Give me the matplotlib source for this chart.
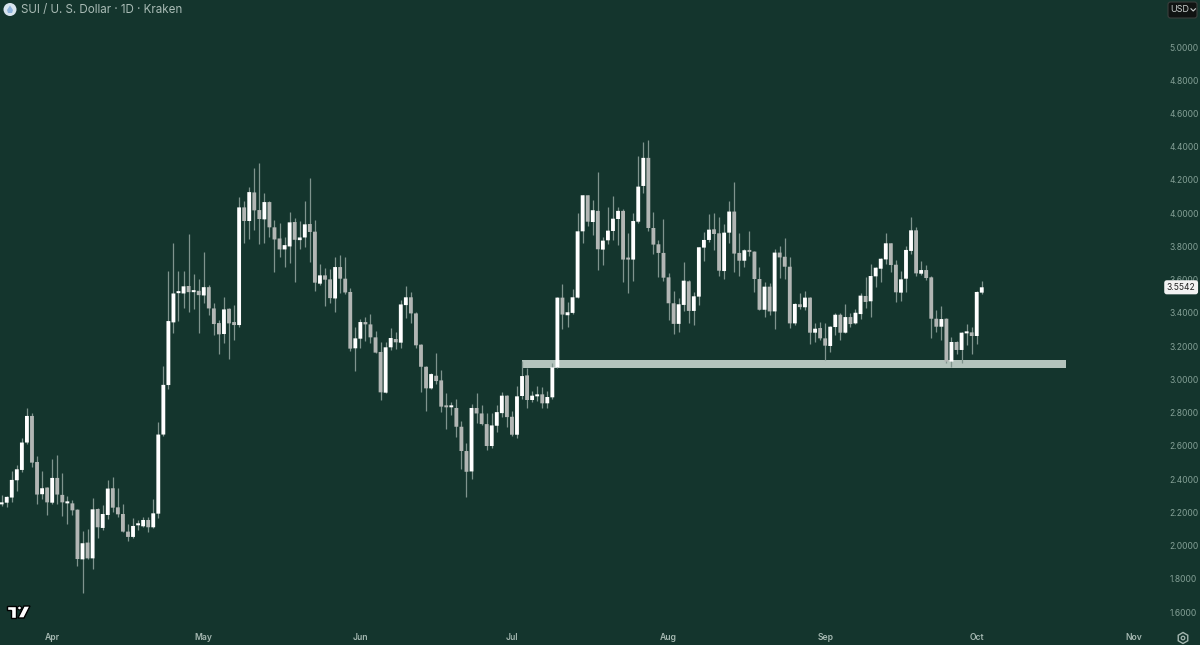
import pandas as pd
import matplotlib
matplotlib.use('Agg')
import matplotlib.pyplot as plt
import matplotlib.dates as mdates
from matplotlib.patches import Circle, FancyBboxPatch, Polygon, RegularPolygon

# Dados (SUI/USD diario, Kraken)
opens = [2.248, 2.258, 2.289, 2.393, 2.455, 2.620, 2.780, 2.503, 2.309, 2.349,
         2.258, 2.407, 2.305, 2.254, 2.254, 2.216, 1.917, 2.018, 1.923, 2.220,
         2.106, 2.184, 2.345, 2.230, 2.190, 2.084, 2.052, 2.122, 2.116, 2.154,
         2.110, 2.192, 2.668, 2.966, 3.343, 3.519, 3.517, 3.562, 3.525, 3.533,
         3.505, 3.555, 3.427, 3.339, 3.273, 3.425, 3.345, 3.327, 4.035, 3.953,
         4.125, 4.019, 3.963, 4.067, 3.915, 3.848, 3.782, 3.800, 3.947, 3.838,
         3.854, 3.935, 3.889, 3.576, 3.626, 3.602, 3.487, 3.676, 3.606, 3.526,
         3.187, 3.245, 3.345, 3.331, 3.253, 3.165, 2.920, 3.193, 3.243, 3.221,
         3.447, 3.494, 3.397, 3.209, 3.076, 2.946, 3.022, 2.994, 2.840, 2.832,
         2.828, 2.715, 2.569, 2.446, 2.828, 2.795, 2.731, 2.599, 2.721, 2.797,
         2.902, 2.775, 2.667, 2.900, 3.024, 2.876, 2.898, 2.910, 2.856, 2.892,
         3.072, 3.492, 3.386, 3.400, 3.492, 3.891, 4.108, 3.947, 4.014, 3.781,
         3.837, 3.893, 3.965, 4.014, 3.725, 3.721, 3.949, 4.164, 4.333, 3.911,
         3.813, 3.761, 3.614, 3.458, 3.334, 3.448, 3.590, 3.412, 3.498, 3.793,
         3.839, 3.903, 3.879, 3.652, 3.883, 4.010, 3.761, 3.714, 3.779, 3.769,
         3.604, 3.419, 3.558, 3.409, 3.763, 3.738, 3.678, 3.337, 3.452, 3.434,
         3.492, 3.281, 3.309, 3.247, 3.201, 3.315, 3.389, 3.281, 3.375, 3.337,
         3.393, 3.502, 3.470, 3.620, 3.666, 3.722, 3.819, 3.690, 3.522, 3.606,
         3.773, 3.897, 3.636, 3.658, 3.614, 3.365, 3.317, 3.365, 3.107, 3.225,
         3.177, 3.277, 3.283, 3.261, 3.522]
highs = [2.305, 2.299, 2.449, 2.483, 2.650, 2.826, 2.796, 2.541, 2.449, 2.352,
         2.523, 2.547, 2.435, 2.299, 2.272, 2.220, 2.086, 2.098, 2.285, 2.224,
         2.246, 2.393, 2.415, 2.345, 2.248, 2.130, 2.166, 2.154, 2.174, 2.170,
         2.280, 2.746, 3.081, 3.652, 3.818, 3.652, 3.652, 3.874, 3.632, 3.602,
         3.764, 3.570, 3.461, 3.357, 3.495, 3.429, 3.445, 4.099, 4.075, 4.155,
         4.274, 4.300, 4.119, 4.075, 3.959, 3.943, 3.858, 4.007, 3.969, 3.953,
         4.073, 4.214, 3.957, 3.692, 3.668, 3.662, 3.734, 3.748, 3.734, 3.548,
         3.313, 3.361, 3.373, 3.395, 3.291, 3.227, 3.223, 3.309, 3.283, 3.477,
         3.562, 3.524, 3.403, 3.213, 3.080, 3.040, 3.156, 3.056, 2.916, 2.866,
         2.880, 2.751, 2.615, 2.850, 2.916, 2.846, 2.799, 2.795, 2.846, 2.926,
         2.906, 2.809, 2.960, 3.112, 3.066, 2.932, 2.962, 2.952, 2.928, 3.096,
         3.498, 3.574, 3.468, 3.542, 3.999, 4.112, 4.112, 4.080, 4.248, 3.859,
         4.040, 4.104, 4.036, 4.024, 3.879, 3.999, 4.345, 4.431, 4.441, 4.010,
         3.839, 3.965, 3.638, 3.532, 3.488, 3.707, 3.598, 3.528, 3.799, 3.887,
         3.995, 4.004, 3.975, 3.933, 4.074, 4.186, 3.883, 3.785, 3.895, 3.773,
         3.678, 3.588, 3.582, 3.783, 3.803, 3.849, 3.734, 3.458, 3.522, 3.534,
         3.498, 3.341, 3.347, 3.341, 3.321, 3.401, 3.397, 3.452, 3.401, 3.421,
         3.518, 3.618, 3.692, 3.676, 3.732, 3.883, 3.823, 3.718, 3.652, 3.805,
         3.979, 3.915, 3.714, 3.688, 3.622, 3.417, 3.444, 3.369, 3.257, 3.229,
         3.287, 3.333, 3.313, 3.530, 3.592]
lows = [2.238, 2.234, 2.260, 2.331, 2.445, 2.611, 2.471, 2.252, 2.283, 2.184,
        2.250, 2.252, 2.180, 2.132, 2.182, 1.879, 1.713, 1.919, 1.859, 2.048,
        2.092, 2.158, 2.200, 2.172, 2.080, 2.026, 2.044, 2.094, 2.110, 2.082,
        2.108, 2.168, 2.660, 2.940, 3.277, 3.353, 3.429, 3.405, 3.425, 3.277,
        3.457, 3.389, 3.267, 3.150, 3.217, 3.122, 3.237, 3.317, 3.818, 3.842,
        3.899, 3.812, 3.818, 3.854, 3.646, 3.734, 3.676, 3.698, 3.588, 3.784,
        3.798, 3.708, 3.533, 3.566, 3.443, 3.461, 3.407, 3.517, 3.513, 3.173,
        3.052, 3.187, 3.233, 3.219, 3.157, 2.876, 2.916, 3.177, 3.181, 3.191,
        3.367, 3.337, 3.187, 2.926, 2.807, 2.942, 2.972, 2.805, 2.701, 2.785,
        2.651, 2.458, 2.290, 2.398, 2.735, 2.725, 2.575, 2.589, 2.685, 2.771,
        2.715, 2.661, 2.645, 2.880, 2.826, 2.866, 2.872, 2.828, 2.830, 2.884,
        3.066, 3.303, 3.313, 3.394, 3.488, 3.819, 3.923, 3.871, 3.656, 3.691,
        3.817, 3.837, 3.809, 3.588, 3.522, 3.592, 3.943, 4.120, 3.891, 3.753,
        3.618, 3.594, 3.356, 3.273, 3.287, 3.412, 3.342, 3.328, 3.448, 3.713,
        3.829, 3.779, 3.622, 3.604, 3.819, 3.648, 3.622, 3.674, 3.742, 3.524,
        3.415, 3.377, 3.385, 3.305, 3.608, 3.606, 3.311, 3.327, 3.421, 3.415,
        3.215, 3.225, 3.237, 3.117, 3.167, 3.267, 3.237, 3.277, 3.317, 3.333,
        3.365, 3.428, 3.373, 3.558, 3.586, 3.692, 3.646, 3.464, 3.472, 3.528,
        3.754, 3.622, 3.626, 3.598, 3.251, 3.285, 3.237, 3.097, 3.076, 3.151,
        3.101, 3.207, 3.153, 3.213, 3.514]
closes = [2.260, 2.293, 2.395, 2.459, 2.620, 2.780, 2.499, 2.307, 2.345, 2.260,
          2.407, 2.307, 2.260, 2.260, 2.212, 1.919, 2.014, 1.923, 2.218, 2.110,
          2.190, 2.343, 2.228, 2.188, 2.084, 2.052, 2.118, 2.126, 2.154, 2.110,
          2.194, 2.668, 2.967, 3.351, 3.517, 3.523, 3.560, 3.525, 3.537, 3.507,
          3.555, 3.427, 3.333, 3.271, 3.421, 3.337, 3.327, 4.035, 3.953, 4.127,
          4.017, 3.965, 4.067, 3.915, 3.842, 3.782, 3.808, 3.945, 3.840, 3.854,
          3.933, 3.887, 3.582, 3.626, 3.600, 3.489, 3.676, 3.606, 3.523, 3.185,
          3.247, 3.345, 3.331, 3.253, 3.161, 2.922, 3.193, 3.249, 3.223, 3.451,
          3.494, 3.397, 3.205, 3.076, 2.946, 3.032, 2.990, 2.836, 2.832, 2.836,
          2.715, 2.569, 2.444, 2.828, 2.795, 2.731, 2.599, 2.723, 2.803, 2.902,
          2.773, 2.667, 2.898, 3.020, 2.876, 2.902, 2.908, 2.856, 2.894, 3.072,
          3.492, 3.390, 3.404, 3.494, 3.891, 4.108, 3.949, 4.018, 3.783, 3.835,
          3.895, 3.967, 4.014, 3.721, 3.721, 3.953, 4.160, 4.333, 3.911, 3.811,
          3.761, 3.612, 3.458, 3.334, 3.452, 3.594, 3.412, 3.500, 3.795, 3.839,
          3.901, 3.875, 3.654, 3.883, 4.010, 3.757, 3.714, 3.777, 3.767, 3.604,
          3.419, 3.558, 3.409, 3.763, 3.734, 3.678, 3.337, 3.454, 3.435, 3.492,
          3.281, 3.305, 3.247, 3.203, 3.317, 3.389, 3.281, 3.375, 3.333, 3.401,
          3.504, 3.466, 3.622, 3.672, 3.726, 3.819, 3.688, 3.524, 3.602, 3.779,
          3.897, 3.638, 3.658, 3.610, 3.365, 3.317, 3.363, 3.107, 3.225, 3.177,
          3.281, 3.283, 3.261, 3.526, 3.5542]
first_day = '2025-03-22'
price_ticks = [1.6, 1.8, 2.0, 2.2, 2.4, 2.6, 2.8, 3.0, 3.2, 3.4, 3.6, 3.8, 4.0, 4.2, 4.4, 4.6, 4.8, 5.0]
zone_low = 3.069
zone_high = 3.117
zone_start = pd.Timestamp('2025-07-03')
zone_end = pd.Timestamp('2025-10-18 16:00')
title = 'SUI / U. S. Dollar · 1D · Kraken'

# Cores
bg = '#14352D'
up_color = '#FFFFFF'
down_color = '#B2B6B4'
wick_color = '#7F948D'
zone_color = '#B4C4BD'
tick_color = '#84A096'

plt.rcParams['font.family'] = ['Inter', 'DejaVu Sans']

dates = pd.date_range(first_day, periods=len(closes), freq='D')
x = mdates.date2num(dates)
bottoms = [min(o, c) for o, c in zip(opens, closes)]
heights = [max(abs(c - o), 0.012) for o, c in zip(opens, closes)]
colors = [up_color if c >= o else down_color for o, c in zip(opens, closes)]

fig = plt.figure(figsize=(12, 6.45), dpi=100, facecolor=bg)
ax = fig.add_axes([0, 20 / 645, 1164 / 1200, 625 / 645], facecolor=bg)

# Zona de suporte
z0, z1 = mdates.date2num(zone_start), mdates.date2num(zone_end)
ax.fill_between([z0, z1], zone_low, zone_high, color=zone_color, lw=0, zorder=1)

# Velas
ax.vlines(x, lows, highs, color=wick_color, lw=0.9, zorder=2)
ax.bar(x, heights, bottom=bottoms, width=0.76, color=colors, lw=0, zorder=3, snap=False)

ax.set_xlim(x[0] - 0.33, x[0] + 230.07)
ax.set_ylim(1.522, 5.283)
for s in ax.spines.values():
    s.set_visible(False)

# Eixos
ax.yaxis.tick_right()
ax.set_yticks(price_ticks)
ax.set_yticklabels([f'{p:.4f}' for p in price_ticks])
ax.tick_params(axis='y', length=0, pad=4, labelsize=6.1, labelcolor=tick_color)
ax.xaxis.set_major_locator(mdates.MonthLocator())
ax.xaxis.set_major_formatter(mdates.DateFormatter('%b'))
ax.tick_params(axis='x', length=0, pad=6, labelsize=6.2, labelcolor='#A5B8B1')
for lab in ax.get_xticklabels():
    lab.set_fontweight('semibold')

# Etiqueta do ultimo preco
ax.annotate(f'{closes[-1]:.4f}', xy=(1, closes[-1]), xycoords=('axes fraction', 'data'),
            xytext=(2, 0), textcoords='offset points', ha='left', va='center',
            fontsize=6.1, color='#222222', annotation_clip=False, zorder=6,
            bbox=dict(boxstyle='round,pad=0.3', fc='#F2F2F2', ec='none'))

# Camada da interface em pixels
ui = fig.add_axes([0, 0, 1, 1], facecolor='none')
ui.set_xlim(0, 1200)
ui.set_ylim(645, 0)
ui.axis('off')

ui.text(21, 9.5, title, fontsize=8.35, color='#A9BBB5', va='center', ha='left')
ui.add_patch(Circle((10, 9.5), 6.5, fc='#D8E4EE', ec='none'))
ui.add_patch(Polygon([(10, 5.5), (13, 10), (12, 13), (8, 13), (7, 10)], fc='#8FB4DC', ec='none'))

ui.add_patch(FancyBboxPatch((1168, 2), 29, 16, boxstyle='round,pad=0,rounding_size=2.5',
                            fc='#101312', ec='#3A3F3D', lw=0.8))
ui.text(1170, 10, 'USD', fontsize=6.5, color='#C9CFCD', va='center', ha='left')
ui.plot([1191, 1193.2, 1195.4], [8.8, 11, 8.8], color='#C9CFCD', lw=0.8)

# Icone de configuracoes
ui.add_patch(RegularPolygon((1183, 638), 6, radius=5.5, fc='none', ec='#A5B8B1', lw=1))
ui.add_patch(Circle((1183, 638), 1.8, fc='none', ec='#A5B8B1', lw=0.9))

# Logo TradingView
for pts in ([(7, 606), (16, 606), (16, 618), (11, 618), (11, 610), (7, 610)],
            [(24, 606), (30, 606), (24, 618), (18, 618)]):
    ui.add_patch(Polygon(pts, fc='#FFFFFF', ec='#000000', lw=1))
ui.add_patch(Circle((19.5, 608), 1.9, fc='#FFFFFF', ec='#000000', lw=0.8))

fig.savefig('out.png', dpi=100, facecolor=bg)
